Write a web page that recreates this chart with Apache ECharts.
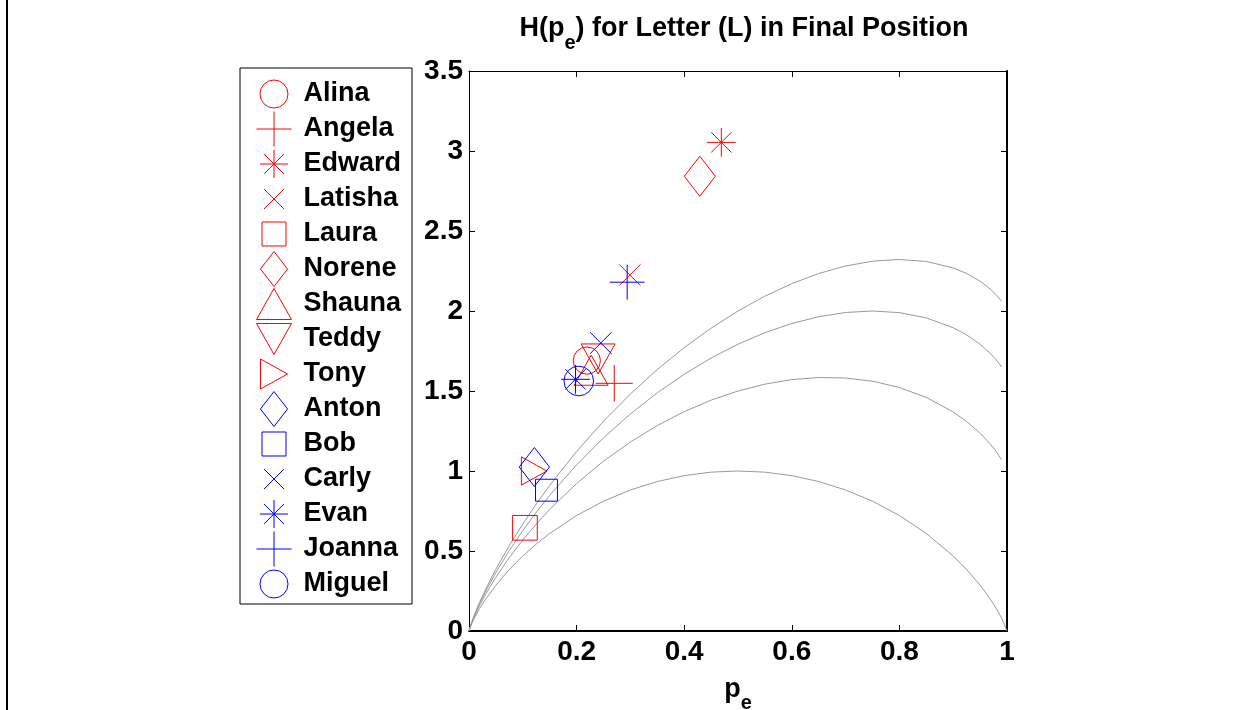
<!DOCTYPE html>
<html>
<head>
<meta charset="UTF-8">
<title>H(pe) for Letter (L) in Final Position</title>
<script src="https://cdn.jsdelivr.net/npm/echarts@6/dist/echarts.min.js"></script>
<style>
  html, body { margin: 0; padding: 0; background: #fff; }
  #view { width: 1251px; height: 710px; }
</style>
</head>
<body>
<div id="view"></div>
<script>
// speaker names, in legend order
var names = ['Alina', 'Angela', 'Edward', 'Latisha', 'Laura', 'Norene', 'Shauna', 'Teddy', 'Tony',
             'Anton', 'Bob', 'Carly', 'Evan', 'Joanna', 'Miguel'];
// error probability p_e for each speaker
var pePoints = [0.219, 0.270, 0.469, 0.299, 0.104, 0.429, 0.227, 0.240, 0.121,
                0.1215, 0.144, 0.245, 0.198, 0.294, 0.204];
// measured H(p_e) for each speaker
var hPoints = [1.69, 1.548, 3.054, 2.225, 0.645, 2.842, 1.63, 1.70, 1.00,
               1.025, 0.88, 1.80, 1.573, 2.18, 1.5625];

// bound curves, sampled at these p_e
var peCurve = [0, 0.005, 0.01, 0.02, 0.03, 0.05, 0.075, 0.1, 0.125, 0.15, 0.2, 0.25, 0.3, 0.35, 0.4,
               0.45, 0.5, 0.55, 0.6, 0.65, 0.7, 0.75, 0.8, 0.85, 0.9, 0.925, 0.95, 0.97, 0.98, 0.99, 1];
var curve2 = [0, 0.0454, 0.0808, 0.1414, 0.1944, 0.2864, 0.3843, 0.4690, 0.5436, 0.6098, 0.7219, 0.8113,
              0.8813, 0.9341, 0.9710, 0.9928, 1.0, 0.9928, 0.9710, 0.9341, 0.8813, 0.8113, 0.7219,
              0.6098, 0.4690, 0.3843, 0.2864, 0.1944, 0.1414, 0.0808, 0];
var curve3 = [0, 0.0504, 0.0908, 0.1614, 0.2244, 0.3364, 0.4593, 0.5690, 0.6686, 0.7598, 0.9219, 1.0613,
              1.1813, 1.2841, 1.3710, 1.4428, 1.5, 1.5428, 1.5710, 1.5841, 1.5813, 1.5613, 1.5219,
              1.4598, 1.3690, 1.3093, 1.2364, 1.1644, 1.1214, 1.0708, null];
var curve4 = [0, 0.0533, 0.0967, 0.1731, 0.2420, 0.3657, 0.5032, 0.6275, 0.7417, 0.8476, 1.0389, 1.2075,
              1.3568, 1.4888, 1.6050, 1.7060, 1.7925, 1.8645, 1.9220, 1.9643, 1.9908, 2.0000, 1.9899,
              1.9570, 1.8955, 1.8504, 1.7921, 1.7318, 1.6947, 1.6499, null];
var curve5 = [0, 0.0554, 0.1008, 0.1814, 0.2544, 0.3864, 0.5343, 0.6690, 0.7936, 0.9098, 1.1219, 1.3113,
              1.4813, 1.6341, 1.7710, 1.8928, 2.0, 2.0928, 2.1710, 2.2341, 2.2813, 2.3113, 2.3219,
              2.3098, 2.2690, 2.2343, 2.1864, 2.1344, 2.1014, 2.0608, null];

var xTicks = ['0', '0.2', '0.4', '0.6', '0.8', '1'];
var yTicks = ['0', '0.5', '1', '1.5', '2', '2.5', '3', '3.5'];

// marker shapes (outer M points pad the box so legend icons keep matlab proportions)
var shapes = {
    circle: 'path://M-1.25,-1.25M-1,0A1,1,0,1,1,1,0A1,1,0,1,1,-1,0ZM1.25,1.25',
    plus: 'path://M0,-1L0,1M-1,0L1,0',
    star: 'path://M-1.25,-1.25M0,-1L0,1M-1,0L1,0M-0.707,-0.707L0.707,0.707M-0.707,0.707L0.707,-0.707M1.25,1.25',
    cross: 'path://M-1.75,-1.75M-1,-1L1,1M-1,1L1,-1M1.75,1.75',
    square: 'path://M-1.46,-1.46M-1,-1L1,-1L1,1L-1,1ZM1.46,1.46',
    diamond: 'path://M-1,-1M0,-1L0.775,0L0,1L-0.775,0ZM1,1',
    triUp: 'path://M-1,-1M0,-0.886L1,0.886L-1,0.886ZM1,1',
    triDown: 'path://M-1,-1M-1,-0.886L1,-0.886L0,0.886ZM1,1',
    triRight: 'path://M-1,-1M-0.771,-0.857L0.771,0L-0.771,0.857ZM1,1'
};
var RED = '#ff0000', BLUE = '#0000ff';
var markers = [
    ['circle', RED, 34], ['plus', RED, 37], ['star', RED, 36], ['cross', RED, 37], ['square', RED, 36],
    ['diamond', RED, 40], ['triUp', RED, 34], ['triDown', RED, 34], ['triRight', RED, 33],
    ['diamond', BLUE, 39], ['square', BLUE, 32], ['cross', BLUE, 38], ['star', BLUE, 36],
    ['plus', BLUE, 35], ['circle', BLUE, 37]
];

var FONT = '"Liberation Sans", Arial, Helvetica, sans-serif';

function curveSeries(vals) {
    return {
        type: 'line',
        data: peCurve.map(function (p, i) { return [p, vals[i]]; }),
        symbol: 'none',
        silent: true,
        lineStyle: { color: '#999999', width: 1 },
        z: 1
    };
}

var series = [curveSeries(curve2), curveSeries(curve3), curveSeries(curve4), curveSeries(curve5)];
var legendData = [];
names.forEach(function (n, i) {
    var m = markers[i];
    var style = { color: 'none', borderColor: m[1], borderWidth: 1, opacity: 1 };
    series.push({
        name: n,
        type: 'scatter',
        data: [[pePoints[i], hPoints[i]]],
        symbol: shapes[m[0]],
        symbolSize: m[2],
        itemStyle: style,
        emphasis: { disabled: true },
        z: 3
    });
    legendData.push({ name: n, icon: shapes[m[0]], itemStyle: style });
});

function subStyle(pad) {
    return { fontFamily: FONT, fontSize: 20, fontWeight: 'bold', color: '#000', padding: [pad, 0, 0, 0] };
}

var myChart = echarts.init(document.getElementById('view'));
var option = {
    backgroundColor: '#fff',
    animation: false,
    title: {
        text: 'H(p{e|e}) for Letter (L) in Final Position',
        left: 739,
        textAlign: 'center',
        top: 0,
        textStyle: {
            fontFamily: FONT, fontSize: 27, fontWeight: 'bold', color: '#000',
            rich: { e: subStyle(28) }
        }
    },
    legend: {
        data: legendData,
        orient: 'vertical',
        left: 240,
        top: 68,
        padding: [6, 11, 0, 14],
        itemWidth: 35,
        itemHeight: 35,
        itemGap: -5,
        symbolKeepAspect: true,
        backgroundColor: '#fff',
        borderColor: '#000',
        borderWidth: 1,
        selectedMode: false,
        itemStyle: { borderWidth: 1 },
        textStyle: {
            fontFamily: FONT, fontSize: 27, fontWeight: 'bold', color: '#000',
            lineHeight: 30, padding: [0, 0, 0, 7]
        },
        z: 10
    },
    graphic: [{
        type: 'line',
        shape: { x1: 7, y1: 0, x2: 7, y2: 710 },
        style: { stroke: '#000', lineWidth: 2 }
    }],
    grid: { left: 469, top: 71, right: 244, bottom: 79, outerBoundsMode: 'none', containLabel: false },
    xAxis: [{
        type: 'value', min: 0, max: 1, interval: 0.2,
        name: 'p{e|e}', nameLocation: 'middle', nameGap: 36,
        nameTextStyle: {
            fontFamily: FONT, fontSize: 27, fontWeight: 'bold', color: '#000',
            rich: { e: subStyle(26) }
        },
        axisLine: { show: true, onZero: false, lineStyle: { color: '#000', width: 2 } },
        axisTick: { show: true, inside: true, length: 6, lineStyle: { color: '#000', width: 1 } },
        axisLabel: {
            margin: 7, fontFamily: FONT, fontSize: 28, fontWeight: 'bold', color: '#000',
            formatter: function (v) { return xTicks[Math.round(v / 0.2)]; }
        },
        splitLine: { show: false }
    }, {
        type: 'value', min: 0, max: 1, interval: 0.2, position: 'top',
        axisLine: { show: true, onZero: false, lineStyle: { color: '#000', width: 1 } },
        axisTick: { show: true, inside: true, length: 6, lineStyle: { color: '#000', width: 1 } },
        axisLabel: { show: false },
        splitLine: { show: false }
    }],
    yAxis: [{
        type: 'value', min: 0, max: 3.5, interval: 0.5,
        name: 'H(p{e|e})', nameLocation: 'middle', nameGap: 56,
        nameTextStyle: {
            fontFamily: FONT, fontSize: 27, fontWeight: 'bold', color: '#000',
            rich: { e: subStyle(26) }
        },
        axisLine: { show: true, onZero: false, lineStyle: { color: '#000', width: 1 } },
        axisTick: { show: true, inside: true, length: 6, lineStyle: { color: '#000', width: 1 } },
        axisLabel: {
            margin: 6, fontFamily: FONT, fontSize: 28, fontWeight: 'bold', color: '#000',
            formatter: function (v) { return yTicks[Math.round(v / 0.5)]; }
        },
        splitLine: { show: false }
    }, {
        type: 'value', min: 0, max: 3.5, interval: 0.5, position: 'right',
        axisLine: { show: true, onZero: false, lineStyle: { color: '#000', width: 2 } },
        axisTick: { show: true, inside: true, length: 6, lineStyle: { color: '#000', width: 1 } },
        axisLabel: { show: false },
        splitLine: { show: false }
    }],
    series: series
};
myChart.setOption(option);
</script>
</body>
</html>
